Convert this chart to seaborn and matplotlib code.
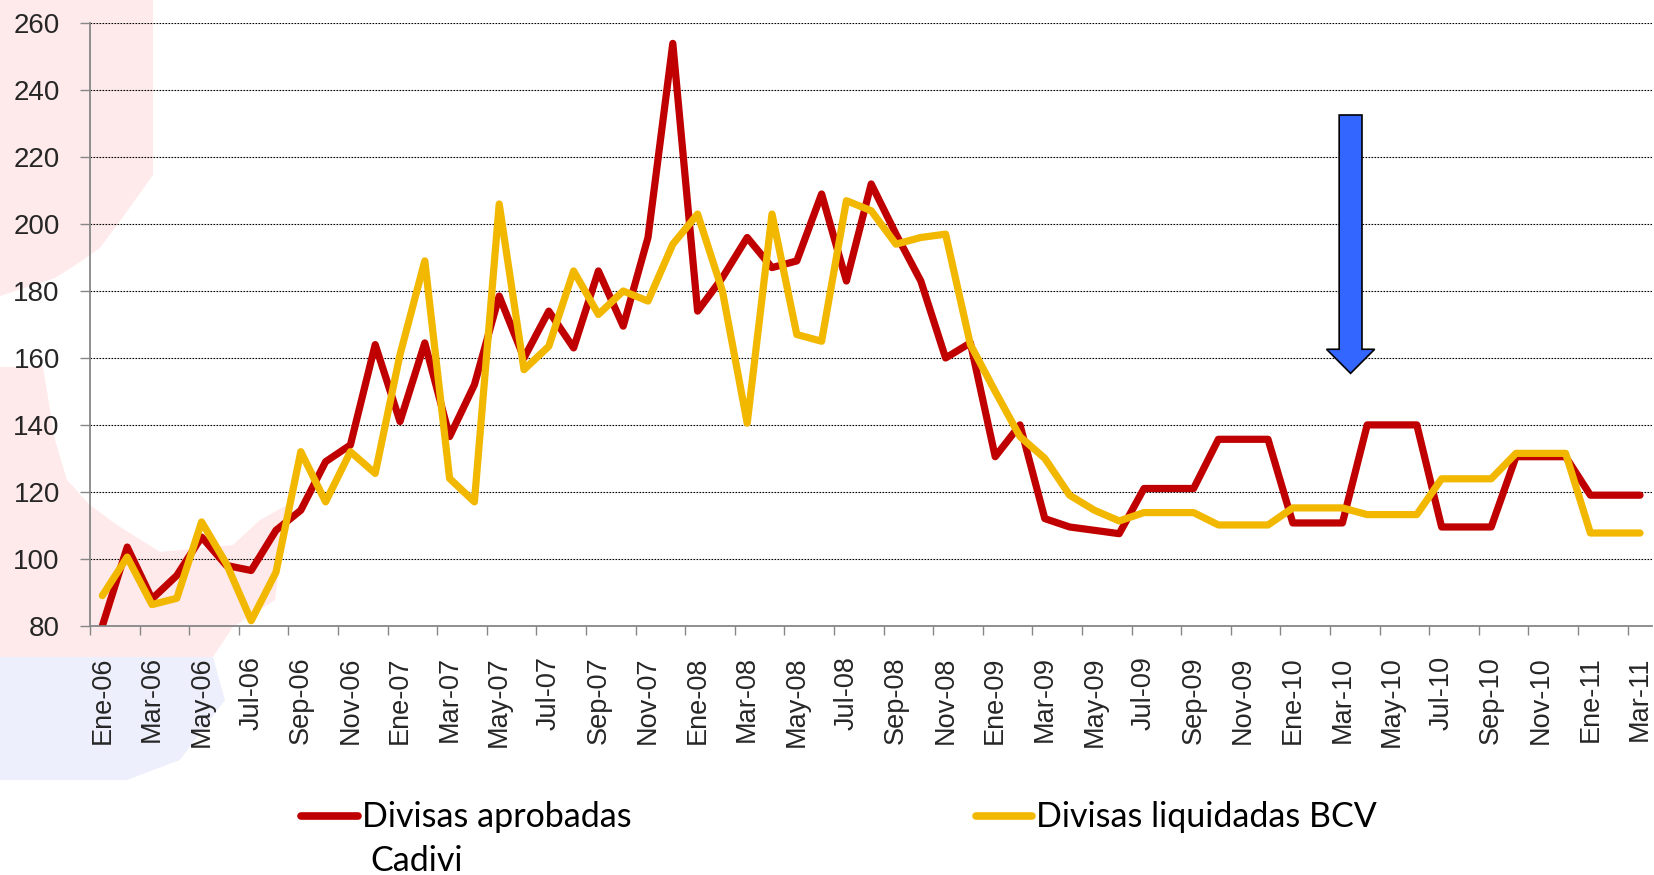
import numpy as np
import pandas as pd
import matplotlib
matplotlib.use("Agg")
import matplotlib.pyplot as plt
from matplotlib.patches import FancyArrow, Polygon
from matplotlib.lines import Line2D
import seaborn as sns

# ===== DATOS =====
MESES = ["Ene", "Feb", "Mar", "Abr", "May", "Jun", "Jul", "Ago", "Sep", "Oct", "Nov", "Dic"]
fechas = [f"{m}-{a:02d}" for a in range(6, 12) for m in MESES][:63]

aprobadas = [80, 103.5, 88, 95, 106.5, 98, 96.5, 108.5, 114.5, 129,
             134, 164, 141, 164.5, 136.5, 152, 178.5, 160, 174, 163,
             186, 169.5, 196, 254, 174, 184, 196, 187, 189, 209,
             183, 212, 197, 183, 160, 164.5, 130.5, 140, 112, 109.5,
             108.5, 107.5, 121, 121, 121, 135.7, 135.7, 135.7, 110.7, 110.7,
             110.7, 140, 140, 140, 109.5, 109.5, 109.5, 130.5, 130.5, 130.5,
             119, 119, 119]

liquidadas = [89, 100.5, 86.3, 88.2, 111, 98.5, 81.5, 96, 132, 117,
              132, 125.5, 161, 189, 124, 117, 206, 156.5, 163.5, 186,
              173, 180, 177, 194, 203, 180, 140.5, 203, 167, 165,
              207, 204, 194, 196, 197, 164, 150, 136.5, 130, 119,
              114.5, 111.3, 113.8, 113.8, 113.8, 110.1, 110.1, 110.1, 115.2, 115.2,
              115.2, 113.2, 113.2, 113.2, 123.9, 123.9, 123.9, 131.5, 131.5, 131.5,
              107.7, 107.7, 107.7]

SERIES = ["Divisas aprobadas Cadivi", "Divisas liquidadas BCV"]
ROJO = "#C00000"
AMARILLO = "#F2B800"
GRIS = "#868686"

df = pd.DataFrame({
    "mes": list(range(len(fechas))) * 2,
    "valor": aprobadas + liquidadas,
    "serie": [SERIES[0]] * len(fechas) + [SERIES[1]] * len(fechas),
})

# ===== FIGURA =====
W, H = 1654, 875
sns.set_theme(style="white")
plt.rcParams["font.family"] = ["Liberation Sans", "DejaVu Sans"]

fig = plt.figure(figsize=(W / 100, H / 100), dpi=100)
fig.patch.set_facecolor("white")

# manchas de fondo (restos de una imagen a la izquierda), en pixeles
manchas = [
    ([(0, 0), (153, 0), (153, 175), (128, 210), (100, 248), (80, 262), (55, 278), (0, 296)], "#FFEAEB"),
    ([(0, 367), (43, 367), (55, 440), (67, 480), (90, 505), (117, 525), (160, 552), (233, 545),
      (260, 520), (287, 505), (275, 600), (233, 627), (213, 657), (0, 657)], "#FFEAEB"),
    ([(0, 657), (213, 657), (225, 700), (180, 760), (127, 780), (0, 780)], "#EEEFFC"),
]
for pts, c in manchas:
    fig.add_artist(Polygon([(x / W, 1 - y / H) for x, y in pts], closed=True,
                           transform=fig.transFigure, facecolor=c, lw=0, zorder=-10))

ax = fig.add_axes([90 / W, 1 - 625.7 / H, 1562.4 / W, (625.7 - 23.3) / H])
ax.set_facecolor("none")

sns.lineplot(data=df, x="mes", y="valor", hue="serie", hue_order=SERIES,
             palette=[ROJO, AMARILLO], linewidth=5.2, legend=False, ax=ax)
for ln in ax.lines:
    ln.set_solid_joinstyle("round")
    ln.set_solid_capstyle("round")

ax.set_xlim(-0.5, len(fechas) - 0.5)
ax.set_ylim(80, 260)
ax.set_xlabel("")
ax.set_ylabel("")

ax.set_yticks(range(80, 261, 20))
ax.yaxis.grid(True, linestyle=(0, (1.5, 1.2)), color="black", linewidth=0.8)
ax.xaxis.grid(False)

ax.set_xticks(range(0, len(fechas), 2))
ax.set_xticklabels(fechas[::2], rotation=90, va="top", ha="center")
ax.set_xticks(np.arange(-0.5, len(fechas) - 1, 2), minor=True)

ax.tick_params(axis="x", which="major", length=0, pad=22, labelsize=19.5)
ax.tick_params(axis="x", which="minor", bottom=True, length=6.5, width=1, color=GRIS, direction="out")
ax.tick_params(axis="y", left=True, length=7.2, width=1, color=GRIS, pad=14.5, labelsize=20)

for s in ["top", "right"]:
    ax.spines[s].set_visible(False)
for s in ["left", "bottom"]:
    ax.spines[s].set_color(GRIS)
    ax.spines[s].set_linewidth(1.3)

# flecha azul
ax.add_patch(FancyArrow(50.33, 232.6, 0, -(232.6 - 155.4), width=0.92, head_width=1.94,
                        head_length=7.2, length_includes_head=True,
                        facecolor="#3366FF", edgecolor="black", linewidth=1.2, zorder=5))

# ===== LEYENDA =====
fuente_ley = dict(fontfamily=["Lato", "DejaVu Sans"], fontsize=24.5, color="black", va="baseline")
fig.add_artist(Line2D([301 / W, 358 / W], [1 - 816 / H] * 2, color=ROJO, lw=5.5,
                      solid_capstyle="round", transform=fig.transFigure))
fig.text(362 / W, 1 - 827 / H, "Divisas aprobadas", **fuente_ley)
fig.text(370 / W, 1 - 871 / H, "Cadivi", **fuente_ley)
fig.add_artist(Line2D([976 / W, 1032 / W], [1 - 816 / H] * 2, color=AMARILLO, lw=5.5,
                      solid_capstyle="round", transform=fig.transFigure))
fig.text(1036 / W, 1 - 827 / H, "Divisas liquidadas BCV", **fuente_ley)

fig.savefig("out.png", dpi=100)
